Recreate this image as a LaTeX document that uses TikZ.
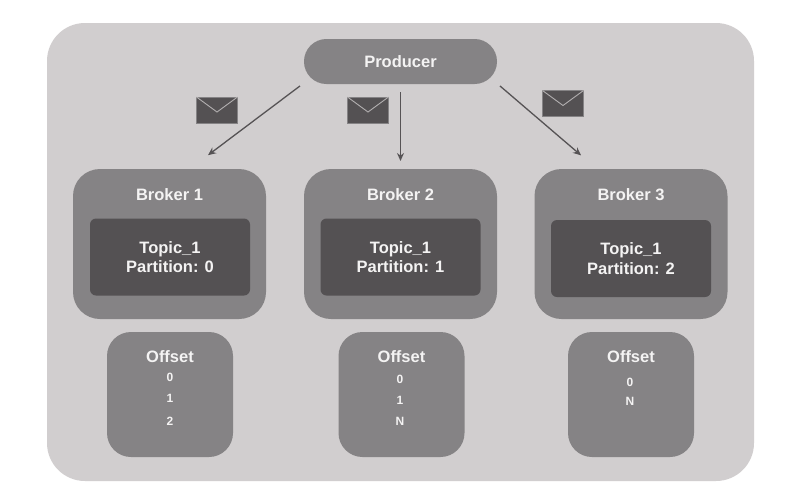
\documentclass[tikz,border=0pt]{standalone}
\usepackage{fontspec}
\setmainfont{Liberation Sans}
\definecolor{panel}{HTML}{D1CECF}
\definecolor{mid}{HTML}{858385}
\definecolor{dark}{HTML}{545153}
\definecolor{ink}{HTML}{F4F3F3}
\definecolor{arrowc}{HTML}{565355}
\newcommand{\blocktext}{\fontsize{16.5}{19.5}\selectfont\bfseries}
\newcommand{\smalltext}{\fontsize{12}{14}\selectfont\bfseries}
\tikzset{
  px/.style={x=1pt,y=-1pt},
  box/.style={inner sep=0pt,outer sep=0pt,text=ink,align=center},
  brokerbox/.style={box,fill=mid,rounded corners=27pt,minimum width=193pt,minimum height=150pt},
  topicbox/.style={box,fill=dark,rounded corners=6pt,minimum width=160pt,minimum height=77pt,font=\blocktext},
  offsetbox/.style={box,fill=mid,rounded corners=24pt,minimum width=126pt,minimum height=125pt},
  producerbox/.style={box,fill=mid,rounded corners=22.4pt,minimum width=193pt,minimum height=45pt,font=\blocktext},
  lab/.style={text=ink,inner sep=0pt,font=\blocktext},
  num/.style={text=ink,inner sep=0pt,font=\smalltext},
  conn/.style={draw=arrowc,line width=1.3pt,-{Stealth[length=8pt,width=7pt]}},
  mail/.style={box,fill=dark,draw=mid,line width=0.6pt,minimum width=41pt,minimum height=26pt},
  flap/.style={draw=panel!75!dark,line width=0.9pt},
}
\usetikzlibrary{arrows.meta}
\begin{document}
\begin{tikzpicture}[px]
\useasboundingbox (0,0) rectangle (796,501);
\fill[white] (0,0) rectangle (796,501);
\fill[panel,rounded corners=38pt] (47,23) rectangle (754,481);

\node[producerbox] (producer) at (400.5,61.5) {Producer};

\node[brokerbox] (broker1) at (169.5,244) {};
\node[brokerbox] (broker2) at (400.5,244) {};
\node[brokerbox] (broker3) at (631,244) {};
\node[lab] (b1label) at (169.5,194.5) {Broker 1};
\node[lab] (b2label) at (400.5,194.5) {Broker 2};
\node[lab] (b3label) at (631,194.5) {Broker 3};
\node[topicbox] (t1) at (170,257) {\raisebox{-1pt}{Topic\_1}\\\raisebox{-1pt}{Partition: 0}};
\node[topicbox] (t2) at (400.5,257) {\raisebox{-1pt}{Topic\_1}\\\raisebox{-1pt}{Partition: 1}};
\node[topicbox] (t3) at (631,258.5) {Topic\_1\\Partition: 2};

\node[offsetbox] (o1) at (170,394.5) {};
\node[offsetbox] (o2) at (401.5,394.5) {};
\node[offsetbox] (o3) at (631,394.5) {};
\node[lab] (o1t) at (170,356.5) {Offset};
\node[lab] (o2t) at (401.5,356.5) {Offset};
\node[lab] (o3t) at (631,356.5) {Offset};
\node[num] (o1a) at (170,377) {0};
\node[num] (o1b) at (170,398) {1};
\node[num] (o1c) at (170,421) {2};
\node[num] (o2a) at (400,379) {0};
\node[num] (o2b) at (400,400) {1};
\node[num] (o2c) at (400,421) {N};
\node[num] (o3a) at (630,382) {0};
\node[num] (o3b) at (630,401) {N};

\draw[conn,shorten <=3.3pt,shorten >=23pt] ([xshift=-97.9pt]producer.south) -- ([xshift=20.1pt]broker1.north);
\draw[conn,shorten <=8pt,shorten >=8pt] (producer.south) -- (broker2.north);
\draw[conn,shorten <=3pt,shorten >=21pt] ([xshift=97.2pt]producer.south) -- ([xshift=-34pt]broker3.north);

\node[mail] (m1) at (217,110) {};
\node[mail] (m2) at (368,110) {};
\node[mail] (m3) at (563,103.5) {};
\foreach \m in {m1,m2,m3}
  \draw[flap] (\m.north west) -- ([yshift=-15pt]\m.north) -- (\m.north east);
\end{tikzpicture}
\end{document}
